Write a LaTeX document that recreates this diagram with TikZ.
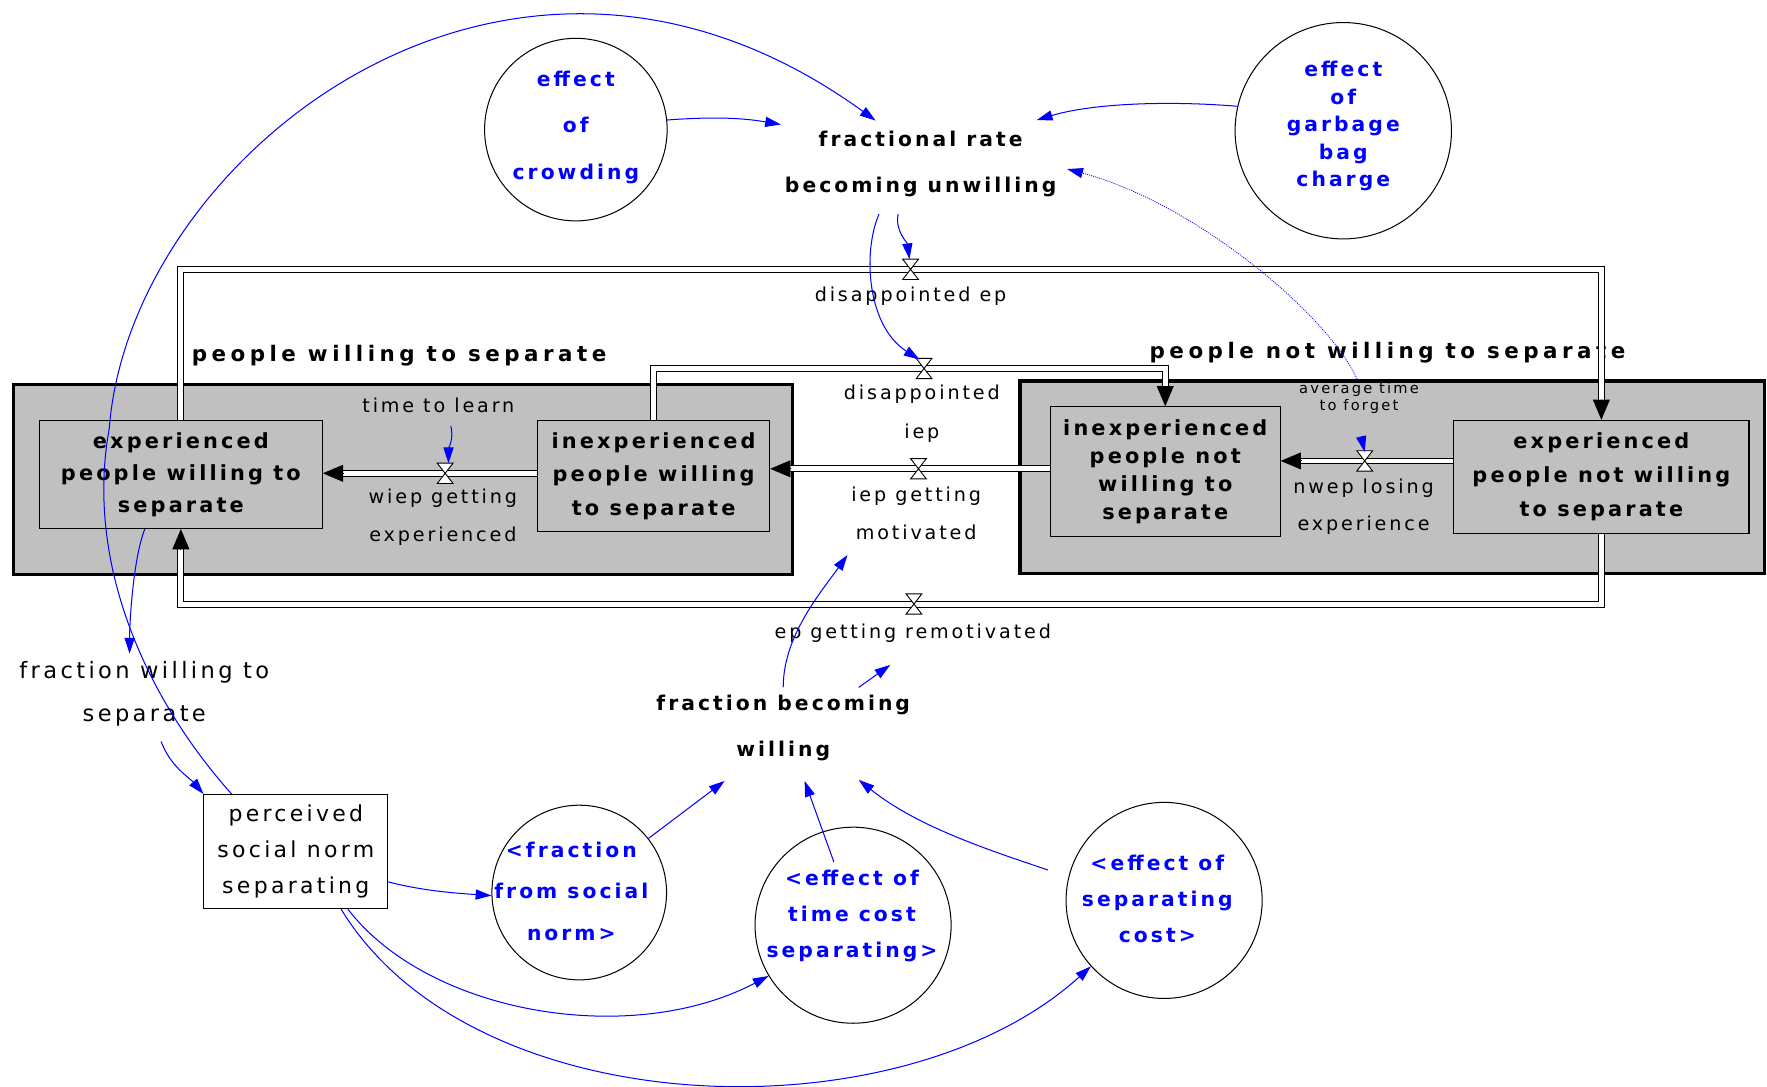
\documentclass[tikz,border=0pt]{standalone}
\usepackage{fontspec}
\setmainfont{DejaVu Sans}
\newfontfamily\vfont[LetterSpace=15]{DejaVu Sans}
\newfontfamily\tfont[LetterSpace=21]{DejaVu Sans}
\usetikzlibrary{arrows.meta,calc}
\definecolor{vblue}{RGB}{0,0,255}
\definecolor{vgray}{RGB}{192,192,192}
\tikzset{
  lbl/.style={font={\vfont\fontsize{17}{#1}\selectfont}, align=center, inner sep=0pt},
  lbl/.default=34,
  blbl/.style={font={\vfont\bfseries\fontsize{18}{#1}\selectfont}, align=center, inner sep=0pt},
  blbl/.default=41,
  stockbox/.style={draw, line width=0.9pt, fill=vgray, align=center, inner sep=0pt,
     font={\vfont\bfseries\fontsize{18.5}{#1}\selectfont}},
  stockbox/.default=28.5,
  cluster/.style={draw, line width=3pt, fill=vgray, inner sep=0pt},
  ctitle/.style={font={\tfont\bfseries\fontsize{19}{24}\selectfont}, anchor=west, inner sep=0pt},
  auxc/.style={circle, draw, line width=0.9pt, inner sep=0pt},
  auxt/.style={text=vblue, font={\vfont\bfseries\fontsize{18}{#1}\selectfont}, align=center, inner sep=0pt},
  infolink/.style={draw=vblue, line width=0.9pt, -{Triangle[length=14pt,width=9pt]}},
  pipefill/.style={white, line width=4.4pt},
  pipeline/.style={black, line width=0.8pt},
  pipetip/.style={-{Triangle[length=18pt,width=15pt]}, line width=0.8pt},
  valve/.pic={\draw[line width=0.8pt, fill=white] (-7,-9) -- (7,-9) -- (-7,9) -- (7,9) -- cycle;}
}
\begin{document}
\begin{tikzpicture}[x=1pt,y=-1pt]
\useasboundingbox[fill=white] (0,0) rectangle (1568,964);

% clusters
\node[cluster, minimum width=691pt, minimum height=169pt] (CW) at (357.5,425.5) {};
\node[cluster, minimum width=661pt, minimum height=171pt] (CNW) at (1235.5,423.5) {};
\node[ctitle] (TW) at (170,316) {people willing to separate};
\node[ctitle] (TNW) at (1020,313) {people not willing to separate};

% stocks
\node[stockbox, minimum width=251pt, minimum height=96pt] (EW) at (160.5,421) {experienced\\people willing to\\separate};
\node[stockbox=29.5, minimum width=206pt, minimum height=99pt] (IW) at (580,422.5) {inexperienced\\people willing\\to separate};
\node[stockbox=25, minimum width=204pt, minimum height=115pt] (INW) at (1034,418.5) {inexperienced\\people not\\willing to\\separate};
\node[stockbox=30.5, minimum width=262pt, minimum height=100pt] (ENW) at (1421,423) {experienced\\people not willing\\to separate};

% valve positions
\coordinate (vdep) at (808,239);
\coordinate (vdiep) at (820,327);
\coordinate (vmot) at (815,416);
\coordinate (vwiep) at (395,420);
\coordinate (vnwep) at (1211,409);
\coordinate (vepr) at (811,536);

% pipes: disappointed ep
\draw[pipefill] (EW.north) -- (EW.north |- vdep) -- (ENW.north |- vdep) -- ($(ENW.north)+(0,-18)$);
\foreach \s/\t in {-2.6/2.6, 2.6/-2.6}
  \draw[pipeline] ($(EW.north)+(\s,0)$) -- ($(EW.north |- vdep)+(\s,\s)$) -- ($(ENW.north |- vdep)+(\t,\s)$) -- ($(ENW.north)+(\t,-18)$);
\draw[pipetip] ($(ENW.north)+(0,-18)$) -- (ENW.north);
% disappointed iep
\draw[pipefill] (IW.north) -- (IW.north |- vdiep) -- (INW.north |- vdiep) -- ($(INW.north)+(0,-18)$);
\foreach \s/\t in {-2.6/2.6, 2.6/-2.6}
  \draw[pipeline] ($(IW.north)+(\s,0)$) -- ($(IW.north |- vdiep)+(\s,\s)$) -- ($(INW.north |- vdiep)+(\t,\s)$) -- ($(INW.north)+(\t,-18)$);
\draw[pipetip] ($(INW.north)+(0,-18)$) -- (INW.north);
% iep getting motivated
\draw[pipefill] (INW.west |- vmot) -- ($(IW.east |- vmot)+(18,0)$);
\foreach \s in {-2.6,2.6}
  \draw[pipeline] ($(INW.west |- vmot)+(0,\s)$) -- ($(IW.east |- vmot)+(18,\s)$);
\draw[pipetip] ($(IW.east |- vmot)+(18,0)$) -- (IW.east |- vmot);
% wiep getting experienced
\draw[pipefill] (IW.west |- vwiep) -- ($(EW.east |- vwiep)+(18,0)$);
\foreach \s in {-2.6,2.6}
  \draw[pipeline] ($(IW.west |- vwiep)+(0,\s)$) -- ($(EW.east |- vwiep)+(18,\s)$);
\draw[pipetip] ($(EW.east |- vwiep)+(18,0)$) -- (EW.east |- vwiep);
% nwep losing experience
\draw[pipefill] (ENW.west |- vnwep) -- ($(INW.east |- vnwep)+(18,0)$);
\foreach \s in {-2.6,2.6}
  \draw[pipeline] ($(ENW.west |- vnwep)+(0,\s)$) -- ($(INW.east |- vnwep)+(18,\s)$);
\draw[pipetip] ($(INW.east |- vnwep)+(18,0)$) -- (INW.east |- vnwep);
% ep getting remotivated
\draw[pipefill] (ENW.south) -- (ENW.south |- vepr) -- (EW.south |- vepr) -- ($(EW.south)+(0,18)$);
\foreach \s/\t in {-2.6/2.6, 2.6/-2.6}
  \draw[pipeline] ($(ENW.south)+(\s,0)$) -- ($(ENW.south |- vepr)+(\s,\s)$) -- ($(EW.south |- vepr)+(\t,\s)$) -- ($(EW.south)+(\t,18)$);
\draw[pipetip] ($(EW.south)+(0,18)$) -- (EW.south);

\pic at (vdep) {valve};
\pic at (vdiep) {valve};
\pic at (vmot) {valve};
\pic at (vwiep) {valve};
\pic at (vnwep) {valve};
\pic at (vepr) {valve};

% flow labels
\node[lbl] (depL) at (808,263) {disappointed ep};
\node[lbl] (diepL) at (818,367) {disappointed\\iep};
\node[lbl=33] (iepmL) at (813,455.5) {iep getting\\motivated};
\node[lbl] (eprL) at (810,562) {ep getting remotivated};
\node[lbl] (wiepL) at (393,459) {wiep getting\\experienced};
\node[lbl=33] (nwepL) at (1210,449.5) {nwep losing\\experience};

% auxiliaries
\node[lbl] (tl) at (389,360) {time to learn};
\node[font={\vfont\fontsize{13}{15}\selectfont}, align=center, inner sep=0pt] (atf) at (1206,353) {average time\\to forget};
\node[blbl=41] (fr) at (817,145.5) {fractional rate\\becoming unwilling};
\node[blbl=40] (fbw) at (695,646) {fraction becoming\\willing};
\node[font={\vfont\fontsize{20}{38}\selectfont}, align=center, inner sep=0pt] (fws) at (128,616) {fraction willing to\\separate};
\node[draw, line width=0.9pt, fill=white, minimum width=163pt, minimum height=101pt, inner sep=0pt,
      font={\vfont\fontsize{19.5}{32}\selectfont}, align=center] (PSN) at (262.5,755.5) {perceived\\social norm\\separating};

\node[auxc, minimum size=162pt] (crowd) at (511,115) {};
\node[auxt=41] (crowdT) at (511,113) {effect\\of\\crowding};
\node[auxc, minimum size=192pt] (garb) at (1192,116) {};
\node[auxt=24.5] (garbT) at (1192,112) {effect\\of\\garbage\\bag\\charge};
\node[auxc, minimum size=155pt] (fsn) at (514,792) {};
\node[auxt=37] (fsnT) at (507,791) {<fraction\\from social\\norm>};
\node[auxc, minimum size=174pt] (tcost) at (757,821) {};
\node[auxt=32] (tcostT) at (756,812.5) {<effect of\\time cost\\separating>};
\node[auxc, minimum size=174pt] (scost) at (1033,799) {};
\node[auxt=32] (scostT) at (1027,797.5) {<effect of\\separating\\cost>};

% information links
\draw[infolink] (crowd.6) .. controls +(40,-3) and +(-35,-6) .. ($(fr)+(-124,-35)$);
\draw[infolink] (garb.167) .. controls +(-60,-5) and +(50,-15) .. ($(fr)+(103,-39)$);
\draw[infolink, densely dotted, line width=0.7pt] ($(atf)+(-1,-15)$) .. controls +(-25,-58) and +(113,30) .. ($(fr)+(130,4.5)$);
\draw[infolink] ($(PSN.north)+(-57,0)$) .. controls (130,620) and (75,500) .. (97,380)
   .. controls (115,140) and (450,-130) .. ($(fr)+(-40,-38.5)$);
\draw[infolink] ($(fr)+(-37,44.5)$) .. controls (765,225) and (770,290) .. ($(vdiep)+(-4,-8)$);
\draw[infolink] ($(fr)+(-20,44.5)$) .. controls +(-3,15) and +(-2,-15) .. ($(vdep)+(-1,-9)$);
\draw[infolink] ($(tl)+(11,18)$) .. controls +(3,10) and +(0,-12) .. ($(vwiep)+(3,-9)$);
\draw[infolink] ($(atf)+(2,35)$) -- ($(vnwep)+(0,-8)$);
\draw[infolink] ($(EW.south)+(-32,0)$) .. controls +(-10,25) and +(0,-30) .. ($(fws)+(-13,-36)$);
\draw[infolink] ($(fws)+(15,42)$) .. controls +(8,22) and +(-12,-14) .. (PSN.north west);
\draw[infolink] ($(PSN.east)+(0,27)$) .. controls +(30,8) and +(-30,-2) .. (fsn.182);
\draw[infolink] ($(PSN.south)+(46,0)$) .. controls (380,900) and (560,930) .. (tcost.211);
\draw[infolink] ($(PSN.south)+(40,0)$) .. controls (420,1000) and (800,1010) .. (scost.222);
\draw[infolink] (fsn.38) -- ($(fbw)+(-52,47)$);
\draw[infolink] ($(tcostT)+(-16,-47.5)$) -- ($(fbw)+(19,47)$);
\draw[infolink] ($(scost)+(-103,-27)$) .. controls +(-60,-20) and +(50,40) .. ($(fbw)+(67,46)$);
\draw[infolink] ($(fbw)+(0,-36)$) .. controls +(0,-45) and +(-25,35) .. ($(iepmL)+(-61,37)$);
\draw[infolink] ($(fbw)+(67,-36)$) -- ($(eprL)+(-20,28)$);
\end{tikzpicture}
\end{document}
